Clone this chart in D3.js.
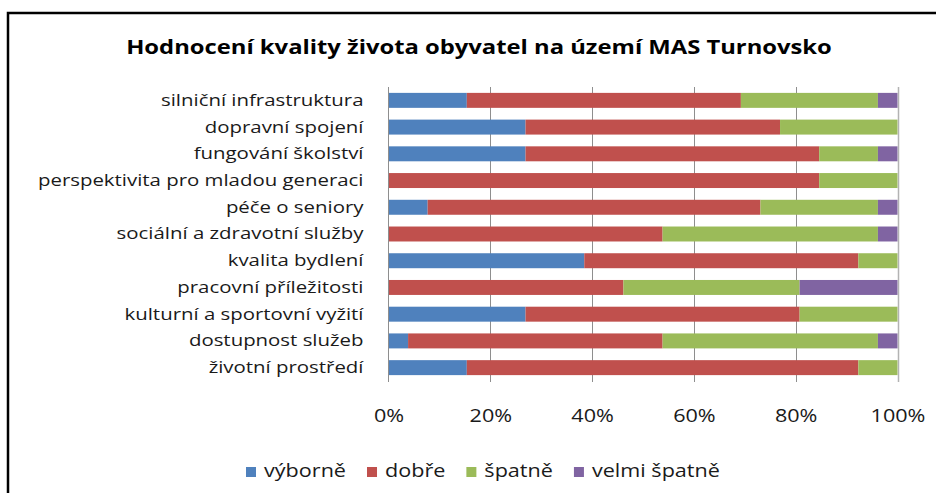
<!DOCTYPE html>
<html>
<head>
<meta charset="utf-8">
<script src="https://cdn.jsdelivr.net/npm/d3@7"></script>
<style>
  html, body { margin: 0; padding: 0; background: #fff; }
  svg { display: block; font-family: "Open Sans", sans-serif; }
</style>
</head>
<body>
<div id="chart"></div>
<script>
// počty odpovědí (z 26 respondentů)
const categories = [
  "silniční infrastruktura",
  "dopravní spojení",
  "fungování školství",
  "perspektivita pro mladou generaci",
  "péče o seniory",
  "sociální a zdravotní služby",
  "kvalita bydlení",
  "pracovní příležitosti",
  "kulturní a sportovní vyžití",
  "dostupnost služeb",
  "životní prostředí"
];
const seriesNames = ["výborně", "dobře", "špatně", "velmi špatně"];
const vyborne     = [4, 7, 7, 0, 2, 0, 10, 0, 7, 1, 4];
const dobre       = [14, 13, 15, 22, 17, 14, 14, 12, 14, 13, 20];
const spatne      = [7, 6, 3, 4, 6, 11, 2, 9, 5, 11, 2];
const velmiSpatne = [1, 0, 1, 0, 1, 1, 0, 5, 0, 1, 0];
const tickValues  = [0, 0.2, 0.4, 0.6, 0.8, 1];
const colors = ["#4F81BD", "#C0504D", "#9BBB59", "#8064A2"];
const title = "Hodnocení kvality života obyvatel na území MAS Turnovsko";

const W = 936, H = 493;
const SX = 1.2; // text in the reference is stretched horizontally

const data = categories.map((c, i) => ({
  cat: c,
  [seriesNames[0]]: vyborne[i],
  [seriesNames[1]]: dobre[i],
  [seriesNames[2]]: spatne[i],
  [seriesNames[3]]: velmiSpatne[i]
}));

const stacked = d3.stack()
  .keys(seriesNames)
  .offset(d3.stackOffsetExpand)(data);

const svg = d3.select("#chart").append("svg")
  .attr("width", W)
  .attr("height", H);

// stretch a text horizontally around its own x
function stretch(sel, sx = SX) {
  sel.each(function() {
    const t = d3.select(this);
    const x = +t.attr("x") || 0;
    t.attr("x", 0).attr("transform", `translate(${x},0) scale(${sx},1)`);
  });
}

// frame
svg.append("path")
  .attr("d", `M8,${H} V13 H${W}`)
  .attr("fill", "none")
  .attr("stroke", "#000")
  .attr("stroke-width", 2.5);

svg.append("text")
  .attr("x", 479)
  .attr("y", 54)
  .attr("text-anchor", "middle")
  .style("font-size", "20px")
  .style("font-weight", "bold")
  .style("fill", "#000")
  .text(title)
  .call(stretch, 1.19);

const x = d3.scaleLinear().domain([0, 1]).range([388.5, 897.5]);
const y = d3.scaleBand()
  .domain(categories)
  .range([87, 381])
  .paddingInner(0.44)
  .paddingOuter(0.22);

// gridlines
svg.append("g")
  .selectAll("line")
  .data(tickValues.slice(1))
  .join("line")
  .attr("x1", d => Math.round(x(d)) + 0.5)
  .attr("x2", d => Math.round(x(d)) + 0.5)
  .attr("y1", 87)
  .attr("y2", 382)
  .attr("stroke", d => d === 1 ? "#b3b3b3" : "#8e8e8e")
  .attr("stroke-width", d => d === 1 ? 1.5 : 1);

// bars
svg.append("g")
  .selectAll("g")
  .data(stacked)
  .join("g")
  .attr("fill", (d, i) => colors[i])
  .selectAll("rect")
  .data(d => d)
  .join("rect")
  .attr("x", d => x(d[0]))
  .attr("y", d => y(d.data.cat))
  .attr("width", d => x(d[1]) - x(d[0]))
  .attr("height", y.bandwidth());

// y axis
const yAxis = svg.append("g")
  .attr("transform", `translate(${x(0)},0)`)
  .call(d3.axisLeft(y).tickSize(0).tickSizeOuter(0).tickPadding(25));
yAxis.select(".domain").attr("stroke", "#8e8e8e").attr("d", "M0,87V382");
yAxis.selectAll("text")
  .style("font-size", "17px")
  .style("font-family", "Open Sans")
  .style("fill", "#1a1a1a")
  .call(stretch);

// x axis
const xAxis = svg.append("g")
  .attr("transform", "translate(0,381)")
  .call(d3.axisBottom(x).tickValues(tickValues).tickFormat(d3.format(".0%")).tickSize(0).tickPadding(28));
xAxis.select(".domain").remove();
xAxis.selectAll("text")
  .style("font-size", "18px")
  .style("font-family", "Open Sans")
  .style("fill", "#1a1a1a")
  .call(stretch);

// legend
const legend = svg.append("g").attr("transform", "translate(246,0)");
let cx = 0;
seriesNames.forEach((name, i) => {
  const item = legend.append("g").attr("transform", `translate(${cx},0)`);
  item.append("rect")
    .attr("x", 0).attr("y", 467)
    .attr("width", 10).attr("height", 10)
    .attr("fill", colors[i]);
  const t = item.append("text")
    .attr("x", 18).attr("y", 477)
    .style("font-size", "18px")
    .style("fill", "#1a1a1a")
    .text(name)
    .call(stretch);
  cx += 18 + t.node().getComputedTextLength() * SX + 21;
});
</script>
</body>
</html>
